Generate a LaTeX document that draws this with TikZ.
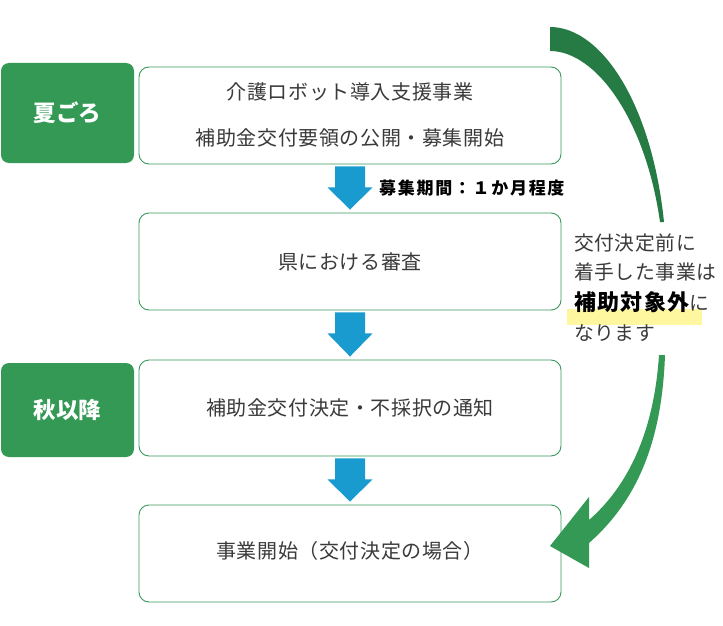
\documentclass[tikz,border=0pt]{standalone}
\usepackage{fontspec}
\setmainfont{Noto Sans CJK JP}
\newfontfamily\jp[LetterSpace=3]{Noto Sans CJK JP}
\usetikzlibrary{calc}
\definecolor{labgreen}{HTML}{339955}
\definecolor{boxgreen}{HTML}{3A9A5C}
\definecolor{darkgreen}{HTML}{267A43}
\definecolor{arrowblue}{HTML}{1A9BD0}
\definecolor{txtgray}{HTML}{3A3A3A}
\definecolor{hilite}{HTML}{FFF7A0}
\tikzset{
  wbox/.style={draw=boxgreen, line width=0.9pt, rounded corners=10pt, fill=white, minimum width=422pt, inner sep=0pt},
  lab/.style={fill=labgreen, rounded corners=8pt, minimum width=133pt, inner sep=0pt, text=white, font=\fontsize{22.5}{24}\selectfont\bfseries},
  txt/.style={text=txtgray, font=\jp\fontsize{20}{22}\selectfont, inner sep=0pt},
  rtxt/.style={text=txtgray, font=\jp\fontsize{19.8}{21}\selectfont, inner sep=0pt, anchor=west},
}
\newcommand\blockarrow[2]{%
  \fill[arrowblue] ($(#1.south)+(-15,2)$) -- ($(#1.south)+(15,2)$) -- ($(#1.south)+(15,23)$) -- ($(#1.south)+(22.5,23)$) -- ($(#2.north)+(0,-3)$) -- ($(#1.south)+(-22.5,23)$) -- ($(#1.south)+(-15,23)$) -- cycle;}
\begin{document}
\begin{tikzpicture}[x=1pt,y=-1pt]
\useasboundingbox[fill=white] (0,0) rectangle (723,626);
% label boxes
\node[lab, minimum height=100pt] (l1) at (67.5,113) {夏ごろ};
\node[lab, minimum height=94pt] (l2) at (67.5,410) {秋以降};
% white boxes
\node[wbox, minimum height=97pt] (b1) at (350,115.5) {};
\node[wbox, minimum height=97pt] (b2) at (350,261.5) {};
\node[wbox, minimum height=96pt] (b3) at (350,408) {};
\node[wbox, minimum height=97pt] (b4) at (350,553.5) {};
\node[txt] (t1a) at (350,92) {介護ロボット導入支援事業};
\node[txt] (t1b) at (350,138) {補助金交付要領の公開・募集開始};
\node[txt] (t2) at (350,262) {県における審査};
\node[txt] (t3) at (350,408) {補助金交付決定・不採択の通知};
\node[txt] (t4) at (350,551) {事業開始（交付決定の場合）};
% blue arrows
\blockarrow{b1}{b2}
\blockarrow{b2}{b3}
\blockarrow{b3}{b4}
\node[anchor=west, inner sep=0pt, font=\fontsize{17}{19}\selectfont\bfseries\addfontfeature{LetterSpace=10}] (period) at (379,188) {募集期間：１か月程度};
% curved arrow top part
\fill[darkgreen] (550,27) .. controls (602,27) and (652,105) .. (664,222)
  -- (660,222) .. controls (646,122) and (597,51) .. (550,51) -- cycle;
% highlight
\fill[hilite] (567,309) rectangle (702,324.5);
% right text
\node[rtxt] (r1) at (574,243) {交付決定前に};
\node[rtxt] (r2) at (574,272) {着手した事業は};
\node[rtxt] (r3) at (574,302) {{\fontsize{22}{23}\selectfont\bfseries\addfontfeature{LetterSpace=6}\color{black}補助対象外}に};
\node[rtxt] (r4) at (574,333) {なります};
% curved arrow bottom part
\fill[labgreen] (665,355) .. controls (662,440) and (638,500) .. (589,543)
  -- (589,568) -- (550,546) -- (589,497) -- (589,520)
  .. controls (628,486) and (654,432) .. (659,355) -- cycle;
\end{tikzpicture}
\end{document}
